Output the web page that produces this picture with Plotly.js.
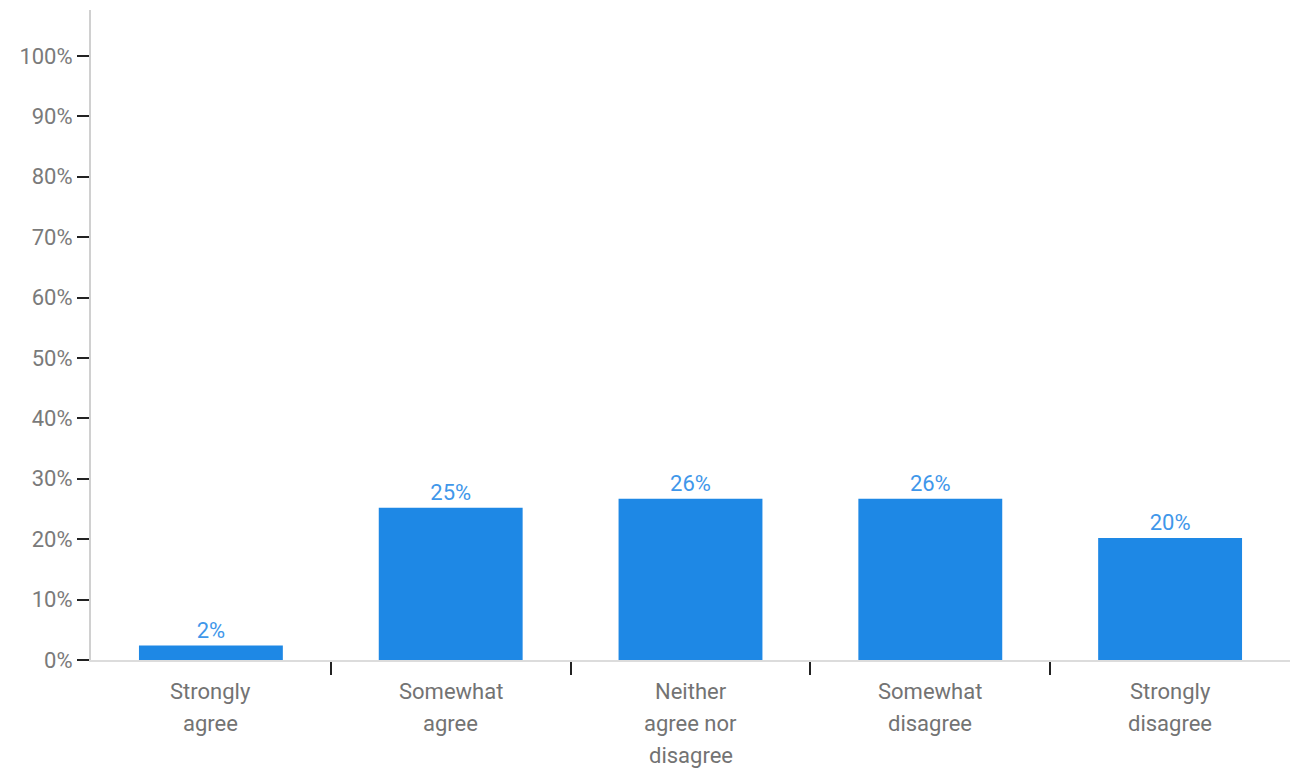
<!DOCTYPE html>
<html>
<head>
<meta charset="utf-8">
<script src="https://cdn.plot.ly/plotly-3.0.1.min.js"></script>
<style>
  html, body { margin: 0; padding: 0; background: #ffffff; }
  #chart { width: 1290px; height: 777px; }
</style>
</head>
<body>
<div id="chart"></div>
<script>
// Data
const categories = ["Strongly<br>agree", "Somewhat<br>agree", "Neither<br>agree nor<br>disagree", "Somewhat<br>disagree", "Strongly<br>disagree"];
const values = [2.4, 25.2, 26.7, 26.7, 20.2];
const valueLabels = ["2%", "25%", "26%", "26%", "20%"];
const yTickValues = [0, 10, 20, 30, 40, 50, 60, 70, 80, 90, 100];

const FONT = "Roboto, 'Liberation Sans', Arial, sans-serif";
const positions = categories.map((c, i) => i);

const trace = {
  type: "bar",
  x: positions,
  y: values,
  text: valueLabels,
  textposition: "outside",
  cliponaxis: false,
  textfont: { family: FONT, size: 22, color: "#3f97ea" },
  marker: { color: "#1e88e5" },
  hoverinfo: "none"
};

// Category labels, one annotation per line for custom line spacing
const annotations = [];
categories.forEach((c, i) => {
  c.split("<br>").forEach((line, j) => {
    annotations.push({
      x: i, xref: "x",
      y: 0, yref: "y",
      text: line,
      showarrow: false,
      xanchor: "center", yanchor: "middle",
      yshift: -31 - j * 32,
      font: { family: FONT, size: 22, color: "#737373" }
    });
  });
});

const layout = {
  width: 1290,
  height: 777,
  margin: { l: 91, r: 0, t: 10, b: 117, pad: 0 },
  paper_bgcolor: "#ffffff",
  plot_bgcolor: "#ffffff",
  showlegend: false,
  bargap: 0.4,
  font: { family: FONT, size: 22, color: "#737373" },
  xaxis: {
    range: [-0.5, 4.5],
    showgrid: false,
    zeroline: false,
    showline: true,
    linecolor: "#dcdcdc",
    linewidth: 2,
    ticks: "outside",
    tickmode: "array",
    tickvals: [0.5, 1.5, 2.5, 3.5],
    ticklen: 13,
    tickwidth: 2,
    tickcolor: "#222222",
    showticklabels: false,
    fixedrange: true
  },
  yaxis: {
    range: [0, 107.6],
    showgrid: false,
    zeroline: false,
    showline: true,
    linecolor: "#d0d0d0",
    linewidth: 2,
    ticks: "outside",
    tickmode: "array",
    tickvals: yTickValues,
    ticktext: yTickValues.map(v => v + "%"),
    ticklen: 12,
    tickwidth: 2,
    tickcolor: "#222222",
    tickfont: { family: FONT, size: 22, color: "#7a7a7a" },
    fixedrange: true
  },
  annotations: annotations
};

Plotly.newPlot("chart", [trace], layout, { displayModeBar: false, staticPlot: true });
</script>
</body>
</html>
